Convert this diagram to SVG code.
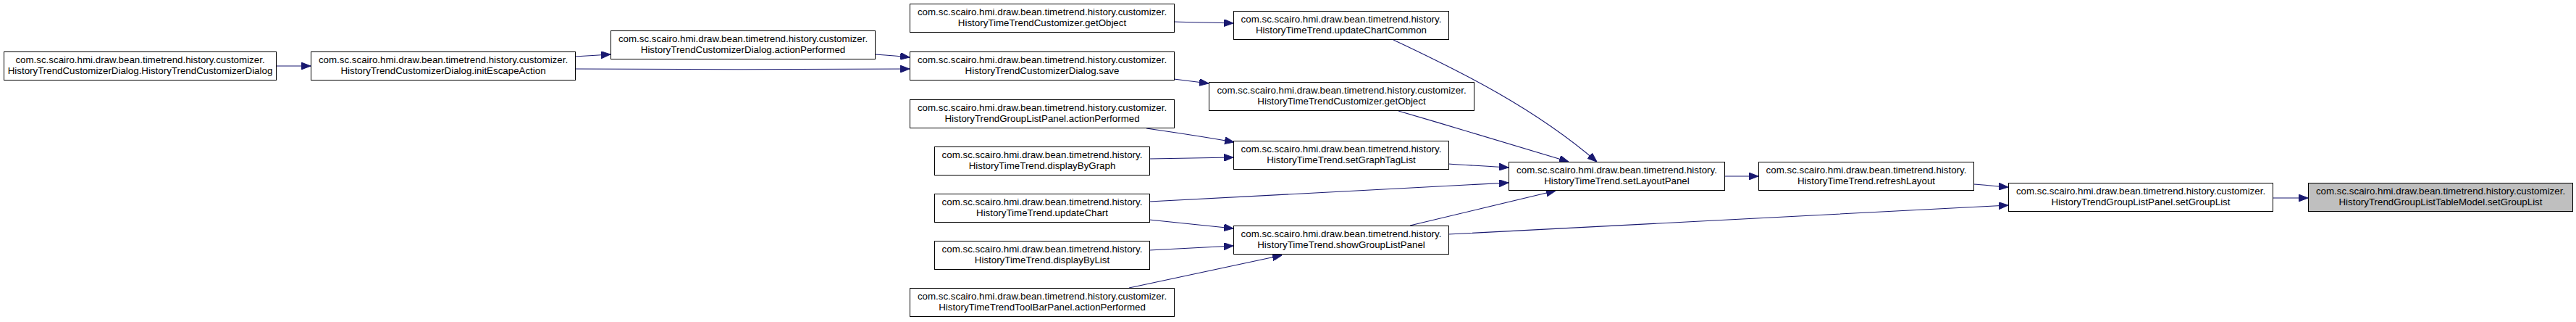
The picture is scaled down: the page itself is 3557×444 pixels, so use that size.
<svg xmlns="http://www.w3.org/2000/svg" width="3557" height="444" viewBox="0 0 3557 444">
<style>
.nb{fill:#ffffff;stroke:#000000;stroke-width:1}
.nb.sel{fill:#bfbfbf}
.t{font-family:"Liberation Sans",Arial,Helvetica,sans-serif;font-size:13.33px;fill:#000000;text-anchor:middle}
.e{fill:none;stroke:#191970;stroke-width:1.1}
</style>
<defs>
<marker id="arr" viewBox="0 0 13 10" refX="13" refY="5" markerWidth="13" markerHeight="10" markerUnits="userSpaceOnUse" orient="auto">
<path d="M0,0 L13,5 L0,10 z" fill="#191970" stroke="#191970" stroke-width="1"/>
</marker>
</defs>
<rect x="0" y="0" width="3557" height="444" fill="#ffffff"/>
<g id="edges">
<path class="e" marker-end="url(#arr)" d="M381,91 L429,91"/>
<path class="e" marker-end="url(#arr)" d="M794,78 C810,77 825,76 843,75"/>
<path class="e" marker-end="url(#arr)" d="M794,95 C950,96 1100,96 1256,95"/>
<path class="e" marker-end="url(#arr)" d="M1208,75 C1225,76 1240,77 1256,79"/>
<path class="e" marker-end="url(#arr)" d="M1621,30 C1650,31 1675,31 1703,32"/>
<path class="e" marker-end="url(#arr)" d="M1621,109 C1637,111 1652,113 1669,115"/>
<path class="e" marker-end="url(#arr)" d="M1583,177 C1625,183 1665,189 1704,196"/>
<path class="e" marker-end="url(#arr)" d="M1587,219 C1625,218 1665,218 1703,217"/>
<path class="e" marker-end="url(#arr)" d="M1587,278 C1750,269 1920,261 2083,252"/>
<path class="e" marker-end="url(#arr)" d="M1587,303 C1625,307 1665,311 1703,315"/>
<path class="e" marker-end="url(#arr)" d="M1587,345 C1625,343 1665,341 1703,339"/>
<path class="e" marker-end="url(#arr)" d="M1559,397 C1630,382 1700,367 1770,352"/>
<path class="e" marker-end="url(#arr)" d="M1924,55 C2020,100 2120,150 2205,223"/>
<path class="e" marker-end="url(#arr)" d="M1931,153 C2010,176 2090,200 2166,223"/>
<path class="e" marker-end="url(#arr)" d="M2000,226 C2028,228 2055,229 2083,231"/>
<path class="e" marker-end="url(#arr)" d="M1947,311 C2015,295 2080,279 2148,263"/>
<path class="e" marker-end="url(#arr)" d="M2000,323 C2258,310 2515,296 2773,283"/>
<path class="e" marker-end="url(#arr)" d="M2381,243 L2428,243"/>
<path class="e" marker-end="url(#arr)" d="M2725,254 C2741,255 2757,257 2773,258"/>
<path class="e" marker-end="url(#arr)" d="M3138,273 L3187,273"/>
</g>
<g id="nA"><rect class="nb" x="5.5" y="71.5" width="376" height="39"/><text class="t"><tspan x="193.5" y="87">com.sc.scairo.hmi.draw.bean.timetrend.history.customizer.</tspan><tspan x="193.5" y="102">HistoryTrendCustomizerDialog.HistoryTrendCustomizerDialog</tspan></text></g>
<g id="nB"><rect class="nb" x="429.5" y="71.5" width="365" height="39"/><text class="t"><tspan x="612" y="87">com.sc.scairo.hmi.draw.bean.timetrend.history.customizer.</tspan><tspan x="612" y="102">HistoryTrendCustomizerDialog.initEscapeAction</tspan></text></g>
<g id="nC"><rect class="nb" x="843.5" y="42.5" width="365" height="39"/><text class="t"><tspan x="1026" y="58">com.sc.scairo.hmi.draw.bean.timetrend.history.customizer.</tspan><tspan x="1026" y="73">HistoryTrendCustomizerDialog.actionPerformed</tspan></text></g>
<g id="nD"><rect class="nb" x="1256.5" y="5.5" width="365" height="39"/><text class="t"><tspan x="1439" y="21">com.sc.scairo.hmi.draw.bean.timetrend.history.customizer.</tspan><tspan x="1439" y="36">HistoryTimeTrendCustomizer.getObject</tspan></text></g>
<g id="nE"><rect class="nb" x="1256.5" y="71.5" width="365" height="39"/><text class="t"><tspan x="1439" y="87">com.sc.scairo.hmi.draw.bean.timetrend.history.customizer.</tspan><tspan x="1439" y="102">HistoryTrendCustomizerDialog.save</tspan></text></g>
<g id="nF"><rect class="nb" x="1256.5" y="137.5" width="365" height="39"/><text class="t"><tspan x="1439" y="153">com.sc.scairo.hmi.draw.bean.timetrend.history.customizer.</tspan><tspan x="1439" y="168">HistoryTrendGroupListPanel.actionPerformed</tspan></text></g>
<g id="nG"><rect class="nb" x="1290.5" y="202.5" width="297" height="39"/><text class="t"><tspan x="1439" y="218">com.sc.scairo.hmi.draw.bean.timetrend.history.</tspan><tspan x="1439" y="233">HistoryTimeTrend.displayByGraph</tspan></text></g>
<g id="nH"><rect class="nb" x="1290.5" y="267.5" width="297" height="39"/><text class="t"><tspan x="1439" y="283">com.sc.scairo.hmi.draw.bean.timetrend.history.</tspan><tspan x="1439" y="298">HistoryTimeTrend.updateChart</tspan></text></g>
<g id="nI"><rect class="nb" x="1290.5" y="332.5" width="297" height="39"/><text class="t"><tspan x="1439" y="348">com.sc.scairo.hmi.draw.bean.timetrend.history.</tspan><tspan x="1439" y="363">HistoryTimeTrend.displayByList</tspan></text></g>
<g id="nJ"><rect class="nb" x="1256.5" y="397.5" width="365" height="39"/><text class="t"><tspan x="1439" y="413">com.sc.scairo.hmi.draw.bean.timetrend.history.customizer.</tspan><tspan x="1439" y="428">HistoryTimeTrendToolBarPanel.actionPerformed</tspan></text></g>
<g id="nK"><rect class="nb" x="1703.5" y="15.5" width="297" height="39"/><text class="t"><tspan x="1852" y="31">com.sc.scairo.hmi.draw.bean.timetrend.history.</tspan><tspan x="1852" y="46">HistoryTimeTrend.updateChartCommon</tspan></text></g>
<g id="nL"><rect class="nb" x="1669.5" y="113.5" width="366" height="39"/><text class="t"><tspan x="1852.5" y="129">com.sc.scairo.hmi.draw.bean.timetrend.history.customizer.</tspan><tspan x="1852.5" y="144">HistoryTimeTrendCustomizer.getObject</tspan></text></g>
<g id="nM"><rect class="nb" x="1703.5" y="194.5" width="297" height="39"/><text class="t"><tspan x="1852" y="210">com.sc.scairo.hmi.draw.bean.timetrend.history.</tspan><tspan x="1852" y="225">HistoryTimeTrend.setGraphTagList</tspan></text></g>
<g id="nN"><rect class="nb" x="1703.5" y="311.5" width="297" height="39"/><text class="t"><tspan x="1852" y="327">com.sc.scairo.hmi.draw.bean.timetrend.history.</tspan><tspan x="1852" y="342">HistoryTimeTrend.showGroupListPanel</tspan></text></g>
<g id="nO"><rect class="nb" x="2083.5" y="223.5" width="298" height="39"/><text class="t"><tspan x="2232.5" y="239">com.sc.scairo.hmi.draw.bean.timetrend.history.</tspan><tspan x="2232.5" y="254">HistoryTimeTrend.setLayoutPanel</tspan></text></g>
<g id="nP"><rect class="nb" x="2428.5" y="223.5" width="297" height="39"/><text class="t"><tspan x="2577" y="239">com.sc.scairo.hmi.draw.bean.timetrend.history.</tspan><tspan x="2577" y="254">HistoryTimeTrend.refreshLayout</tspan></text></g>
<g id="nQ"><rect class="nb" x="2773.5" y="252.5" width="365" height="39"/><text class="t"><tspan x="2956" y="268">com.sc.scairo.hmi.draw.bean.timetrend.history.customizer.</tspan><tspan x="2956" y="283">HistoryTrendGroupListPanel.setGroupList</tspan></text></g>
<g id="nR"><rect class="nb sel" x="3187.5" y="252.5" width="365" height="39"/><text class="t"><tspan x="3370" y="268">com.sc.scairo.hmi.draw.bean.timetrend.history.customizer.</tspan><tspan x="3370" y="283">HistoryTrendGroupListTableModel.setGroupList</tspan></text></g>
</svg>
